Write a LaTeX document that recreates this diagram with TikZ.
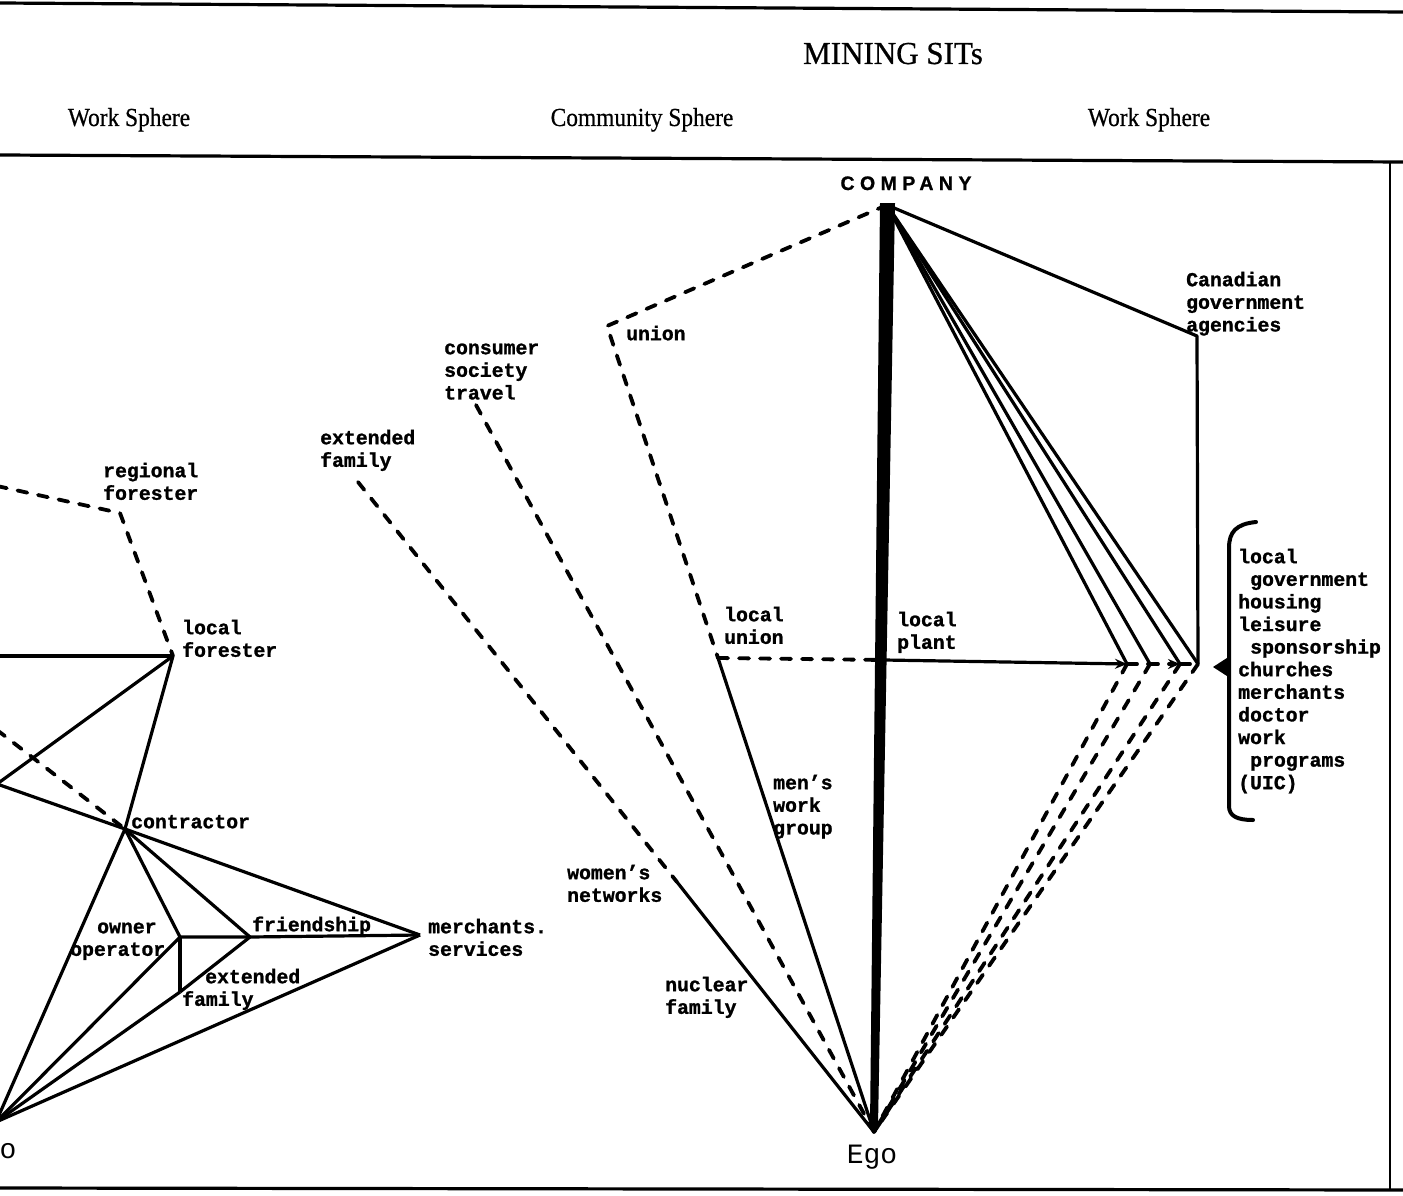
\documentclass[tikz,border=0pt]{standalone}
\usepackage{fontspec}
\usepackage{graphicx}
\setmainfont{Liberation Serif}
\newfontfamily\monofam[BoldFeatures={FakeBold=1.2}]{Liberation Mono}
\newfontfamily\compfam[LetterSpace=28,BoldFeatures={FakeBold=1}]{Liberation Sans}
\newfontfamily\headfam[FakeBold=0.6]{Liberation Serif}
\usetikzlibrary{arrows.meta,calc}
\newcommand\lblfont{\monofam\bfseries\fontsize{19.8}{22.6}\selectfont}
\tikzset{
  ln/.style={line width=3.2pt, line join=round},
  dsh/.style={line width=3.8pt, dash pattern=on 10pt off 11pt, line cap=round},
  frame/.style={line width=3.2pt},
  lbl/.style={font=\lblfont, inner sep=0pt, anchor=north west, align=left, yshift=15.82pt},
  hdr/.style={font=\headfam\fontsize{26}{30}\selectfont, inner sep=0pt, anchor=base},
  tip/.style={-{Stealth[length=12pt,width=10pt]}},
}
\begin{document}
\begin{tikzpicture}[x=1pt,y=-1pt]
\useasboundingbox (0,0) rectangle (1403,1196);
\clip (0,0) rectangle (1403,1196);
\fill[white] (0,0) rectangle (1403,1196);

% frame
\coordinate (ft1) at (0,3);   \coordinate (ft2) at (1403,12);
\coordinate (fh1) at (0,155); \coordinate (fh2) at (1403,162);
\coordinate (fb1) at (0,1188);\coordinate (fb2) at (1403,1190);
\coordinate (fr1) at (1390,161);\coordinate (fr2) at (1390,1190);
\draw[frame] (ft1) -- (ft2);
\draw[frame] (fh1) -- (fh2);
\draw[frame] (fb1) -- (fb2);
\draw[line width=2.8pt] (fr1) -- (fr2);

% headings
\node[hdr, font=\headfam\fontsize{32}{36}\selectfont] (title) at (893,64) {\scalebox{0.97}[1]{MINING SITs}};
\node[hdr] (wsl) at (129,126) {\scalebox{0.9}[1]{Work Sphere}};
\node[hdr] (csp) at (642,126) {\scalebox{0.9}[1]{Community Sphere}};
\node[hdr] (wsr) at (1149,126) {\scalebox{0.9}[1]{Work Sphere}};

% ---------- left (forestry) part ----------
\coordinate (lw) at (-3,486);
\coordinate (regf) at (120,513);
\coordinate (locf) at (173,656);
\coordinate (locfL) at (-3,656);
\coordinate (lp) at (-3,784);
\coordinate (ldash) at (-3,730);
\coordinate (contr) at (125,829);
\coordinate (egoL) at (-4,1122);
\coordinate (ownop) at (180,937);
\coordinate (friend) at (250,937);
\coordinate (merch) at (420,935);
\coordinate (extf) at (180,992);

\draw[dsh] (lw) -- (regf) -- (locf);
\draw[ln] (locfL) -- (locf);
\draw[ln] (lp) -- (locf);
\draw[ln] (lp) -- (contr);
\draw[ln] (locf) -- (contr);
\draw[dsh] (ldash) -- (contr);
\draw[ln] (contr) -- (egoL);
\draw[ln] (contr) -- (ownop);
\draw[ln] (contr) -- (friend);
\draw[ln] (contr) -- (merch);
\draw[ln] (ownop) -- (friend) -- (merch);
\draw[ln] (ownop) -- (extf);
\draw[ln] (extf) -- (friend);
\draw[ln] (egoL) -- (ownop);
\draw[ln] (egoL) -- (extf);
\draw[ln] (egoL) -- (merch);

\node[lbl] (tregf) at (103,477) {\strut regional\\forester};
\node[lbl] (tlocf) at (182,634) {\strut local\\forester};
\node[lbl] (tcontr) at (131,828) {\strut contractor};
\node[lbl] (townop) at (70,933) {\strut\hspace*{27pt}owner\\operator};
\node[lbl] (tfriend) at (252,931) {\strut friendship};
\node[lbl] (tmerch) at (428,933) {\strut merchants.\\services};
\node[lbl] (textf) at (182,983) {\strut\hspace*{23pt}extended\\family};
\node[font=\monofam\fontsize{28}{32}\selectfont, inner sep=0pt, anchor=base] (tegoL) at (8,1158) {o};

% ---------- right (mining) part ----------
\coordinate (company) at (887,205);
\coordinate (union) at (607,326);
\coordinate (cons) at (476,405);
\coordinate (extm) at (358,482);
\coordinate (locu) at (718,658);
\coordinate (locp) at (884,660);
\coordinate (womn) at (677,882);
\coordinate (ego) at (874,1132);
\coordinate (cga) at (1197,336);
\coordinate (j1) at (1127,664);
\coordinate (j2) at (1150,664);
\coordinate (j3) at (1180,664);
\coordinate (j4) at (1198,664);

\draw[dsh] (company) -- (union) -- (locu);
\draw[dsh] (locu) -- (locp);
\draw[ln] (locu) -- (ego);
\draw[dsh] (extm) -- (womn);
\draw[ln] (womn) -- (ego);
\draw[dsh] (cons) -- (ego);
\draw[ln] (company) -- (cga) -- (j4);
\foreach \j in {j1,j2,j3,j4} {\draw[ln] (company) -- (\j);}
\draw[ln,tip] (locp) -- (j1);
\draw[dsh,tip] (j1) -- (j3);
\draw[dsh] (j3) -- (j4);
\foreach \j in {j1,j2,j3,j4} {\draw[dsh] (\j) -- (ego);}
% thick company -- ego tie
\fill ($(company)+(-7,-2)$) -- ($(company)+(8,-2)$) -- ($(ego)+(4,-6)$) -- (ego) -- ($(ego)+(-4,-6)$) -- cycle;

% brace
\coordinate (brt) at (1256,522);
\coordinate (brb) at (1253,820);
\coordinate (brtip) at (1213,667);
\draw[line width=4pt, line cap=round] (brt) .. controls (1236,524) and (1229,532) .. (1229,548) -- (1229,806) .. controls (1229,816) and (1237,820) .. (brb);
\fill (brtip) -- (1230,656) -- (1230,678) -- cycle;

\node[font=\compfam\bfseries\fontsize{19.5}{22}\selectfont, inner sep=0pt, anchor=base] (tcomp) at (906,190) {COMPANY};
\node[font=\monofam\fontsize{28}{32}\selectfont, inner sep=0pt, anchor=base] (tego) at (872,1163) {Ego};
\node[lbl] (tunion) at (626,340) {\strut union};
\node[lbl] (tcons) at (444,354) {\strut consumer\\society\\travel};
\node[lbl] (textm) at (320,444) {\strut extended\\family};
\node[lbl] (tlocu) at (724,621) {\strut local\\union};
\node[lbl] (tlocp) at (897,626) {\strut local\\plant};
\node[lbl] (tmen) at (773,789) {\strut men’s\\work\\group};
\node[lbl] (twomn) at (567,879) {\strut women’s\\networks};
\node[lbl] (tnucl) at (665,991) {\strut nuclear\\family};
\node[lbl] (tcga) at (1186,286) {\strut Canadian\\government\\agencies};
\node[lbl] (tlist) at (1238,563) {\strut local\\\hspace*{12pt}government\\housing\\leisure\\\hspace*{12pt}sponsorship\\churches\\merchants\\doctor\\work\\\hspace*{12pt}programs\\(UIC)};
\end{tikzpicture}
\end{document}
